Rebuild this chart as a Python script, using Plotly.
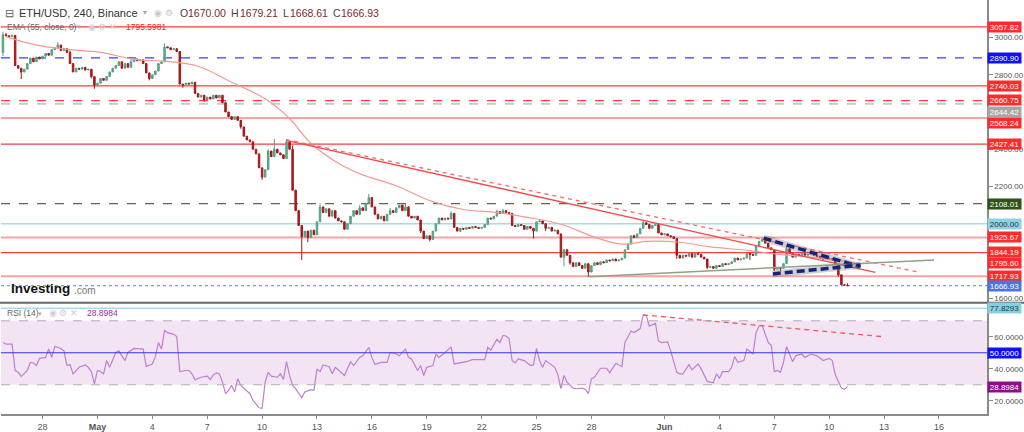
import pandas as pd
import plotly.graph_objects as go

# ---- values ----
# 4h candles, first one at 2022-04-25 20:00
t_first = '2022-04-25 20:00'
first_open = 2920
closes = [
    3015, 3010, 3005, 3012, 2850, 2835, 2815, 2830, 2860, 2890, 2870, 2895,
    2885, 2900, 2915, 2905, 2935, 2945, 2960, 2930, 2940, 2920, 2860, 2815,
    2835, 2830, 2840, 2825, 2830, 2790, 2745, 2755, 2780, 2770, 2790, 2815,
    2835, 2850, 2870, 2835, 2860, 2840, 2870, 2885, 2875, 2880, 2860, 2810,
    2780, 2800, 2820, 2860, 2870, 2950, 2945, 2935, 2940, 2925, 2750, 2745,
    2755, 2750, 2760, 2700, 2680, 2690, 2665, 2680, 2670, 2690, 2675, 2690,
    2650, 2600, 2575, 2560, 2575, 2555, 2520, 2470, 2450, 2440, 2400, 2375,
    2300, 2250, 2290, 2390, 2360, 2400, 2380, 2370, 2350, 2440, 2400, 2180,
    2070, 1990, 1930, 1960, 1925, 1965, 1940, 2010, 2090, 2060, 2080, 2040,
    2070, 2030, 2015, 2010, 1970, 2000, 2040, 2070, 2050, 2085, 2070, 2110,
    2140, 2090, 2050, 2025, 2040, 2015, 2050, 2070, 2060, 2085, 2100, 2070,
    2090, 2040, 2030, 2040, 2020, 1960, 1920, 1935, 1915, 1960, 2000, 2030,
    2020, 2030, 2025, 2055, 1980, 1960, 1975, 1970, 1980, 1975, 1985, 1980,
    1975, 1980, 1995, 2030, 2025, 2040, 2065, 2055, 2070, 2060, 2055, 1990,
    1985, 1995, 1990, 1970, 1985, 1975, 1960, 2010, 2015, 2000, 1975, 1980,
    1960, 1965, 1945, 1820, 1860, 1830, 1790, 1770, 1790, 1775, 1760, 1785,
    1740, 1775, 1790, 1780, 1795, 1790, 1805, 1800, 1810, 1800, 1805, 1815,
    1860, 1890, 1935, 1925, 1945, 1975, 2005, 1995, 1975, 1990, 1995, 1950,
    1940, 1945, 1935, 1930, 1920, 1830, 1815, 1830, 1825, 1840, 1820, 1840,
    1835, 1820, 1810, 1765, 1770, 1760, 1775, 1770, 1785, 1780, 1785, 1795,
    1815, 1805, 1810, 1815, 1840, 1835, 1830, 1880, 1905, 1915, 1895, 1870,
    1860, 1755, 1765, 1760, 1785, 1865, 1840, 1820, 1835, 1830, 1840, 1830,
    1835, 1840, 1830, 1825, 1815, 1810, 1815, 1812, 1805, 1780, 1725, 1672,
    1670, 1666.93,
]
wick_hi = {0: 3030, 1: 3025, 18: 2975, 22: 2930, 42: 2890, 53: 2968, 87: 2400,
           89: 2455, 93: 2455, 95: 2420, 104: 2110, 117: 2100, 120: 2160,
           127: 2085, 132: 2105, 147: 2065, 162: 2075, 164: 2080, 207: 1940,
           210: 2020, 249: 1925, 257: 1880, 258: 1870, 277: 1679.21}
wick_lo = {0: 2900, 6: 2777, 29: 2780, 30: 2725, 36: 2815, 48: 2770, 59: 2730,
           66: 2655, 78: 2510, 85: 2235, 98: 1805, 100: 1900, 137: 1950,
           140: 1905, 150: 1955, 174: 1920, 178: 1960, 184: 1770, 186: 1780,
           192: 1715, 221: 1810, 231: 1755, 245: 1805, 253: 1745, 255: 1745,
           274: 1715}

# EMA(55) read at some candles
ema_idx = [1, 10, 21, 32, 43, 54, 64, 75, 86, 94, 101, 110, 118, 129, 140,
           151, 162, 172, 183, 194, 203, 211, 222, 232, 244, 254, 265, 277]
ema_val = [3005, 2963, 2936, 2920, 2883, 2872, 2846, 2760, 2671, 2565, 2432,
           2325, 2262, 2204, 2124, 2076, 2060, 2034, 1997, 1928, 1890, 1905,
           1900, 1875, 1857, 1836, 1820, 1795.6]

# RSI(14) read at some candles
rsi_idx = [0, 1, 3, 4, 5, 6, 8, 9, 10, 11, 12, 14, 15, 16, 17, 19, 20, 21, 22, 23,
           25, 27, 28, 29, 30, 31, 32, 33, 34, 35, 37, 38, 40, 41, 43, 45, 46, 47, 49, 50,
           51, 52, 53, 54, 56, 57, 58, 60, 61, 62, 63, 65, 67, 68, 69, 70, 71, 72, 73, 74,
           75, 76, 77, 78, 80, 81, 82, 84, 85, 86, 87, 88, 90, 91, 92, 93, 94, 95, 96, 97,
           98, 99, 101, 102, 103, 104, 105, 107, 108, 109, 111, 112, 114, 115, 117, 118, 120, 121, 122, 124,
           126, 127, 129, 130, 132, 133, 134, 136, 137, 138, 139, 141, 142, 143, 145, 147, 148, 150, 152, 154,
           156, 158, 159, 160, 162, 163, 164, 165, 166, 167, 168, 169, 171, 173, 174, 175, 176, 177, 178, 180,
           181, 182, 183, 184, 185, 187, 188, 190, 191, 192, 193, 194, 196, 198, 199, 201, 203, 204, 206, 207,
           209, 210, 211, 212, 214, 215, 216, 218, 219, 221, 222, 223, 225, 226, 228, 229, 231, 233, 234, 235,
           236, 238, 239, 240, 241, 243, 244, 246, 247, 248, 249, 251, 252, 253, 254, 255, 256, 257, 259, 260,
           262, 263, 265, 267, 269, 271, 272, 273, 275, 276, 277]
rsi_val = [56.4, 55.4, 55.4, 38.9, 37.8, 35.2, 38.9, 44, 43.6, 42, 46.5, 47.1, 52.3, 47.1, 53.9, 52.7, 51.2, 42, 42.6, 36.8,
           40.9, 42.4, 40.9, 38.2, 30.6, 38.9, 38.2, 36.8, 45.1, 40.9, 50.2, 51.2, 45.1, 50.2, 52.7, 52.3, 52.3, 41.5, 43, 47.7,
           56.4, 52.3, 64, 62.6, 61.5, 60.1, 38.2, 38.9, 38.9, 36.8, 33.1, 34.7, 35.4, 33.3, 36.2, 37.4, 36.8, 31.6, 24.4, 26.5,
           29.6, 25.5, 33.7, 29.6, 25.9, 24.4, 20.3, 15.6, 15.2, 31.6, 37.8, 35.4, 34.7, 36.8, 33.3, 44.4, 35.8, 29.6, 27.5, 24.4,
           21.8, 25.5, 26.9, 26.5, 39.9, 38.2, 42.4, 41.3, 36.8, 40.9, 37.4, 35.8, 44.4, 42, 47.1, 48.1, 53.3, 47.1, 42.6, 44,
           44, 50.2, 49.2, 48.1, 52.3, 47.1, 46.1, 38.9, 42, 35.8, 40.9, 42, 49.2, 47.1, 50.2, 53.7, 43, 43.6, 44.4, 45.7,
           45.7, 45.7, 53.3, 51.6, 58.5, 56.4, 60.9, 60.5, 58.9, 45.1, 43.6, 46.1, 45.1, 42, 42.4, 52.7, 45.1, 40.9, 45.1, 42,
           40.9, 36.2, 27.5, 35.8, 31.6, 27.9, 27.5, 27.9, 27.1, 24.4, 33.7, 34.7, 40.3, 40.3, 37.4, 43.4, 41.3, 56.4, 63.6, 62.6,
           65.1, 73.5, 73.3, 66.7, 68.4, 57.4, 56.4, 56.8, 51.2, 37.8, 36.8, 36.8, 42.6, 39.3, 43, 39.9, 32.1, 31.2, 36.8, 34.1,
           38.2, 38.2, 40.9, 47.7, 44, 45.1, 52.3, 49.2, 62.6, 66.7, 67.1, 56.4, 54.7, 38.2, 38.9, 37.8, 44, 53.9, 44.4, 48.1,
           49.2, 47.1, 49.2, 48.1, 45.1, 46.5, 45.1, 36.2, 27.9, 27.1, 28.8984]

# horizontal levels on the price pane
level_vals = [3057.82, 2890.90, 2740.03, 2660.75, 2644.42, 2568.24, 2427.41,
              2108.01, 2000.00, 1925.67, 1844.19, 1717.93, 1666.93]
# price tags on the right scale
tag_vals = [3057.82, 2890.90, 2740.03, 2660.75, 2644.42, 2568.24, 2427.41,
            2108.01, 2000.00, 1925.67, 1844.19, 1795.60, 1717.93, 1666.93]
rsi_tag_vals = [77.8293, 50.0000, 28.8984]

# drawn trend lines (date, price)
down_x = ['2022-05-11 07:30', '2022-06-12 12:30']
down_y = [2448, 1738]
down_dash_x = ['2022-05-11 07:30', '2022-06-14 23:15']
down_dash_y = [2452, 1738]
support_x = ['2022-05-27 20:00', '2022-06-15 17:30']
support_y = [1715, 1805]
wedge_top_x = ['2022-06-06 10:00', '2022-06-11 17:00']
wedge_top_y = [1922, 1768]
wedge_bot_x = ['2022-06-06 22:00', '2022-06-11 17:00']
wedge_bot_y = [1730, 1777]
rsi_line_x = ['2022-05-30 19:40', '2022-06-12 21:40']
rsi_line_y = [73.7, 60.1]

tick_dates = ['2022-04-28', '2022-05-01', '2022-05-04', '2022-05-07', '2022-05-10',
              '2022-05-13', '2022-05-16', '2022-05-19', '2022-05-22', '2022-05-25',
              '2022-05-28', '2022-06-01', '2022-06-04', '2022-06-07', '2022-06-10',
              '2022-06-13', '2022-06-16']
tick_text = ['28', '<b>May</b>', '4', '7', '10', '13', '16', '19', '22', '25',
             '28', '<b>Jun</b>', '4', '7', '10', '13', '16']

# ---- build ----
times = pd.date_range(t_first, periods=len(closes), freq='4h')
opens = [first_open] + closes[:-1]
highs = [wick_hi.get(i, max(o, c)) for i, (o, c) in enumerate(zip(opens, closes))]
lows = [wick_lo.get(i, min(o, c)) for i, (o, c) in enumerate(zip(opens, closes))]

W, H = 1024, 432
ML, MR, MT, MB = 1, 34, 0, 13
PW, PH = W - ML - MR, H - MT - MB


def px(x):
    return (x - ML) / PW


def py(y):
    return (H - MB - y) / PH


FONT = 'Liberation Sans, Arial, sans-serif'
fig = go.Figure()

# rsi band first (below everything)
shapes = [
    dict(type='rect', xref='paper', yref='y2', x0=0, x1=1, y0=30, y1=70,
         fillcolor='#f2e4f2', line_width=0, layer='below'),
    dict(type='line', xref='paper', yref='y2', x0=0, x1=1, y0=70, y1=70,
         line=dict(color='#b9aab9', width=1, dash='dash')),
    dict(type='line', xref='paper', yref='y2', x0=0, x1=1, y0=30, y1=30,
         line=dict(color='#b9aab9', width=1, dash='dash')),
    dict(type='line', xref='paper', yref='y2', x0=0, x1=1, y0=50, y1=50,
         line=dict(color='#3434e0', width=1)),
    dict(type='line', xref='paper', yref='y2', x0=0, x1=1, y0=77.8293, y1=77.8293,
         line=dict(color='#a4dde9', width=1.5)),
    # pane separator
    dict(type='line', xref='paper', yref='paper', x0=-0.01, x1=1.04, y0=py(306.5), y1=py(306.5),
         line=dict(color='#666666', width=2)),
]

level_style = [
    ('#ff3b3b', 1.2, 'solid'), ('#3b3bff', 1.2, 'dash'), ('#ff3b3b', 1.2, 'solid'),
    ('#ff3b3b', 1.2, 'dash'), ('#c9c9c9', 2, 'dash'), ('#f6a3a3', 2, 'solid'),
    ('#ef4040', 1.2, 'solid'), ('#5d6848', 1.2, 'dash'), ('#a4dde9', 1.5, 'solid'),
    ('#f6a3a3', 2, 'solid'), ('#ef4040', 1.2, 'solid'), ('#f6a3a3', 2, 'solid'),
    ('#8095ee', 1.2, 'dot'),
]
for v, (c, w, d) in zip(level_vals, level_style):
    shapes.append(dict(type='line', xref='paper', yref='y', x0=0, x1=1, y0=v, y1=v,
                       line=dict(color=c, width=w, dash=d), layer='below'))

fig.add_trace(go.Candlestick(
    x=times, open=opens, high=highs, low=lows, close=closes,
    increasing=dict(line=dict(color='#5b9c80', width=1), fillcolor='#36c2a4'),
    decreasing=dict(line=dict(color='#a11818', width=1), fillcolor='#b81c1c'),
    whiskerwidth=0, hoverinfo='skip', xaxis='x', yaxis='y'))

fig.add_trace(go.Scatter(x=times[ema_idx], y=ema_val, mode='lines', line_shape='spline',
                         line=dict(color='#f39a96', width=1.2), xaxis='x', yaxis='y'))

# drawn lines
fig.add_trace(go.Scatter(x=down_x, y=down_y, mode='lines',
                         line=dict(color='#f24a4a', width=1.3), xaxis='x', yaxis='y'))
fig.add_trace(go.Scatter(x=down_dash_x, y=down_dash_y, mode='lines',
                         line=dict(color='#f56b6b', width=1.3, dash='4px,4px'), xaxis='x', yaxis='y'))
fig.add_trace(go.Scatter(x=support_x, y=support_y, mode='lines',
                         line=dict(color='#8fa284', width=1.5), xaxis='x', yaxis='y'))
for wx, wy in [(wedge_top_x, wedge_top_y), (wedge_bot_x, wedge_bot_y)]:
    fig.add_trace(go.Scatter(x=wx, y=wy, mode='lines',
                             line=dict(color='rgba(120,120,120,0.35)', width=7), xaxis='x', yaxis='y'))
    fig.add_trace(go.Scatter(x=wx, y=wy, mode='lines',
                             line=dict(color='#17237a', width=3.5, dash='8px,4px'), xaxis='x', yaxis='y'))

# rsi
fig.add_trace(go.Scatter(x=times[rsi_idx], y=rsi_val, mode='lines',
                         line=dict(color='#c07fd2', width=1.2), xaxis='x2', yaxis='y2'))
fig.add_trace(go.Scatter(x=rsi_line_x, y=rsi_line_y, mode='lines',
                         line=dict(color='#f25a5a', width=1.3, dash='5px,4px'), xaxis='x2', yaxis='y2'))

# right side tags (colour, text colour, vertical nudge in px so tags don't collide)
tag_style = {
    3057.82: ('#ff2a2a', 'white', 0), 2890.90: ('#1010ff', 'white', 0), 2740.03: ('#ff2a2a', 'white', 0),
    2660.75: ('#ff2a2a', 'white', 1), 2644.42: ('#a6a6a6', 'white', -8), 2568.24: ('#ff2a2a', 'white', -5),
    2427.41: ('#ff2a2a', 'white', 0), 2108.01: ('#2f5218', 'white', 0), 2000.00: ('#8fd2e4', '#1e3a44', 0),
    1925.67: ('#ff2a2a', 'white', 0), 1844.19: ('#ff2a2a', 'white', 1), 1795.60: ('#ff2a2a', 'white', -1),
    1717.93: ('#ff2a2a', 'white', 0), 1666.93: ('#4f72e3', 'white', 0),
}
annotations = []
for v in tag_vals:
    bg, fg, dy = tag_style[v]
    annotations.append(dict(xref='paper', yref='y', x=1, y=v, xanchor='left', yanchor='middle',
                            yshift=dy, text=f'{v:.2f}', showarrow=False, bgcolor=bg, width=33,
                            height=10, borderpad=0, font=dict(family=FONT, size=8, color=fg)))
rsi_tag_style = [('#86cfe0', '#1e3a44'), ('#1010ff', 'white'), ('#8a0f8a', 'white')]
for v, (bg, fg) in zip(rsi_tag_vals, rsi_tag_style):
    annotations.append(dict(xref='paper', yref='y2', x=1, y=v, xanchor='left', yanchor='middle',
                            text=f'{v:.4f}', showarrow=False, bgcolor=bg, width=33, height=10,
                            borderpad=0, font=dict(family=FONT, size=8, color=fg)))


def label(x, y, text, size, color, bold=False):
    annotations.append(dict(xref='paper', yref='paper', x=px(x), y=py(y), xanchor='left',
                            yanchor='middle', showarrow=False, text=f'<b>{text}</b>' if bold else text,
                            font=dict(family=FONT, size=size, color=color)))


label(3, 13, '⊟', 11, '#666')
label(17, 13, 'ETH/USD, 240, Binance', 11, '#333')
label(141, 13, '▾', 8, '#aaa')
label(152, 13, '◉ ⚙', 9, '#c8c8c8')
label(179, 13, 'O', 10.5, '#444')
label(187, 13, '1670.00', 10.5, '#7b2b2b')
label(230, 13, 'H', 10.5, '#444')
label(239, 13, '1679.21', 10.5, '#7b2b2b')
label(282, 13, 'L', 10.5, '#444')
label(289, 13, '1668.61', 10.5, '#7b2b2b')
label(332, 13, 'C', 10.5, '#444')
label(340, 13, '1666.93', 10.5, '#7b2b2b')
label(5, 27, 'EMA (55, close, 0)', 8.5, '#666')
label(75, 27, '▾', 7, '#aaa')
label(86, 27, '◉ ⚙ ✕', 8.5, '#cfcfcf')
label(124, 27, '1795.5981', 8.5, '#ff2020')
label(9, 292, 'Investing', 13.5, '#111', bold=True)
label(72, 294, '.com', 10, '#777')
label(5, 317, 'RSI (14)', 8.5, '#666')
label(36, 317, '▾', 7, '#aaa')
label(47, 317, '◉ ⚙ ✕', 8.5, '#cfcfcf')
label(85, 317, '28.8984', 8.5, '#9a2fa0')

x_lo, x_hi = '2022-04-25 17:27', '2022-06-18 15:00'
axis_line = '#8a8a8a'
fig.update_layout(
    width=W, height=H, margin=dict(l=ML, r=MR, t=MT, b=MB),
    paper_bgcolor='white', plot_bgcolor='white', showlegend=False,
    font=dict(family=FONT),
    shapes=shapes, annotations=annotations,
    xaxis=dict(domain=[0, 1], range=[x_lo, x_hi], anchor='y', showticklabels=False,
               rangeslider=dict(visible=False), showgrid=False, zeroline=False,
               showline=True, linecolor='#cccccc', mirror=False),
    yaxis=dict(domain=[py(306.0), 1], range=[1577.2, 3201.7], side='right',
               tickvals=[3000, 2800, 2400, 2200, 1600], tickformat='.2f',
               ticks='outside', ticklen=4, tickcolor=axis_line, showline=True,
               linecolor=axis_line, linewidth=1.5, showgrid=False, zeroline=False,
               tickfont=dict(size=8, color='#555')),
    xaxis2=dict(domain=[0, 1], matches='x', anchor='y2', tickvals=tick_dates, ticktext=tick_text,
                ticks='outside', ticklen=3, tickcolor=axis_line, showline=True,
                linecolor=axis_line, linewidth=1.5, showgrid=False, zeroline=False,
                tickfont=dict(size=9, color='#555')),
    yaxis2=dict(domain=[0, py(307.5)], range=[11.7, 80.6], side='right',
                tickvals=[20, 40, 60], tickformat='.4f', ticks='outside', ticklen=4,
                tickcolor=axis_line, showline=True, linecolor=axis_line, linewidth=1.5,
                showgrid=False, zeroline=False, tickfont=dict(size=8, color='#555')),
)

# the page's default body margin would shift the figure by 8px
fig.write_html('out.html', config={'displayModeBar': False},
               post_script="document.body.style.margin='0';")
